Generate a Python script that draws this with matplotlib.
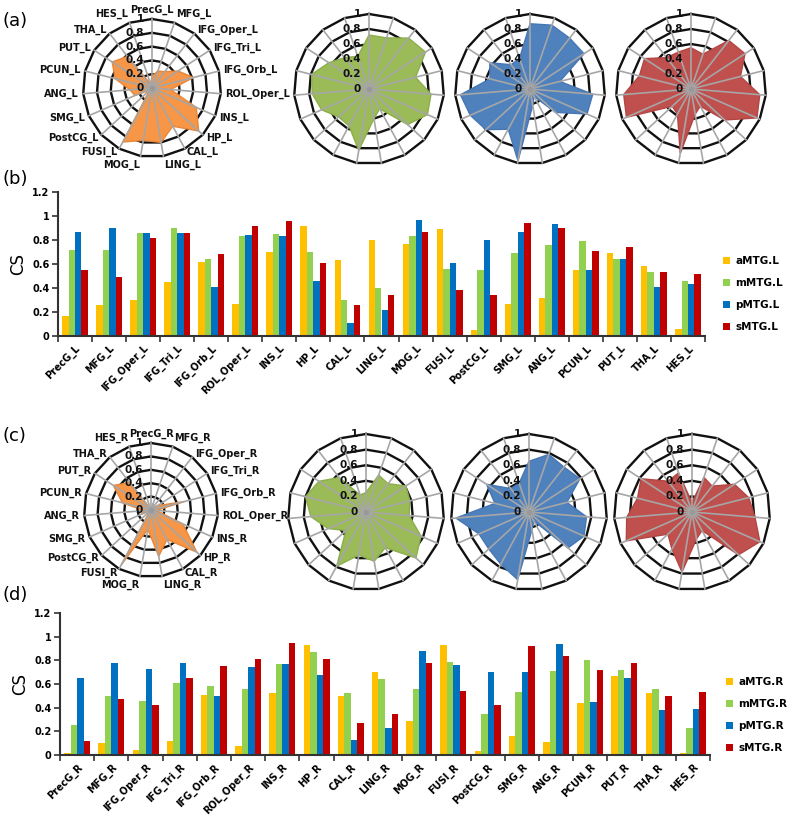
import numpy as np
import matplotlib.pyplot as plt

W, H = 787, 822

regions = ['PrecG', 'MFG', 'IFG_Oper', 'IFG_Tri', 'IFG_Orb', 'ROL_Oper', 'INS', 'HP', 'CAL', 'LING',
           'MOG', 'FUSI', 'PostCG', 'SMG', 'ANG', 'PCUN', 'PUT', 'THA', 'HES']
series = ['aMTG', 'mMTG', 'pMTG', 'sMTG']

# linke Hemisphaere
aMTG_L = [0.17, 0.26, 0.30, 0.45, 0.62, 0.27, 0.70, 0.92, 0.63, 0.80, 0.77, 0.89, 0.05, 0.27, 0.32, 0.55, 0.69, 0.58, 0.06]
mMTG_L = [0.72, 0.72, 0.86, 0.90, 0.64, 0.83, 0.85, 0.70, 0.30, 0.40, 0.83, 0.56, 0.55, 0.69, 0.76, 0.79, 0.64, 0.53, 0.46]
pMTG_L = [0.87, 0.90, 0.86, 0.86, 0.41, 0.84, 0.83, 0.46, 0.11, 0.22, 0.97, 0.61, 0.80, 0.87, 0.93, 0.55, 0.64, 0.41, 0.43]
sMTG_L = [0.55, 0.49, 0.82, 0.86, 0.68, 0.92, 0.96, 0.61, 0.26, 0.34, 0.87, 0.38, 0.34, 0.94, 0.90, 0.71, 0.74, 0.53, 0.52]

# rechte Hemisphaere
aMTG_R = [0.02, 0.10, 0.04, 0.12, 0.51, 0.08, 0.52, 0.93, 0.50, 0.70, 0.29, 0.93, 0.03, 0.16, 0.11, 0.44, 0.67, 0.52, 0.02]
mMTG_R = [0.25, 0.50, 0.46, 0.61, 0.58, 0.555, 0.77, 0.87, 0.52, 0.64, 0.56, 0.79, 0.35, 0.53, 0.71, 0.80, 0.72, 0.56, 0.23]
pMTG_R = [0.65, 0.78, 0.73, 0.78, 0.50, 0.74, 0.77, 0.68, 0.13, 0.23, 0.88, 0.76, 0.70, 0.70, 0.94, 0.45, 0.65, 0.38, 0.39]
sMTG_R = [0.12, 0.47, 0.42, 0.65, 0.75, 0.81, 0.95, 0.81, 0.27, 0.35, 0.78, 0.54, 0.42, 0.92, 0.84, 0.72, 0.78, 0.50, 0.53]

bar_colors = ['#FFC000', '#92D050', '#0070C0', '#C00000']
radar_colors = ['#F79646', '#9BBB59', '#4F81BD', '#C0504D']
radar_edges = ['#E8873A', '#8DAE4C', '#4677B4', '#B24643']

plt.rcParams['font.family'] = 'DejaVu Sans'
fig = plt.figure(figsize=(W / 100, H / 100), dpi=100)


def rect_px(left, top, right, bottom):
    return [left / W, 1 - bottom / H, (right - left) / W, (bottom - top) / H]


def radar(cx, cy, R, values, color, edge, suffix=None):
    ax = fig.add_axes(rect_px(cx - R, cy - R, cx + R, cy + R), projection='polar')
    ax.set_theta_zero_location('N')
    ax.set_theta_direction(-1)
    ax.set_ylim(0, 1)
    ax.set_xticks([])
    ax.set_yticks([])
    ax.grid(False)
    ax.spines['polar'].set_visible(False)
    ax.patch.set_alpha(0)
    n = len(values)
    ang = np.linspace(0, 2 * np.pi, n, endpoint=False)
    ang_c = np.append(ang, ang[0])
    # Ringe unter der Flaeche, Speichen darueber (wie in Excel)
    for r in [0.2, 0.4, 0.6, 0.8, 1.0]:
        ax.plot(ang_c, [r] * (n + 1), color='#111111', lw=1.7, clip_on=False, zorder=1)
    vals = np.append(values, values[0])
    ax.fill(ang_c, vals, facecolor=color, edgecolor=edge, lw=1.0, alpha=1.0, zorder=3, clip_on=False)
    for a in ang:
        ax.plot([a, a], [0, 1], color='#A6A6A6', lw=1.2, clip_on=False, zorder=4)
    ax.plot([0], [0], 'o', color='#999999', ms=3, zorder=5)
    for r in [0, 0.2, 0.4, 0.6, 0.8, 1.0]:
        ax.annotate('{:g}'.format(r), (0, r), xytext=(-6, 0), textcoords='offset points',
                    ha='right', va='center', fontsize=7.5, fontweight='bold', color='#111111',
                    annotation_clip=False, zorder=6)
    if suffix:
        for a, name in zip(ang, regions):
            s, c = np.sin(a), np.cos(a)
            ha = 'left' if s > 0.05 else ('right' if s < -0.05 else 'center')
            va = 'bottom' if c > 0.9 else ('top' if c < -0.9 else 'center')
            ax.annotate(name + suffix, (a, 1.0), xytext=(3 * s, 3 * c), textcoords='offset points',
                        ha=ha, va=va, fontsize=7, fontweight='bold', color='#111111',
                        annotation_clip=False)
    return ax


def bars(rect, data, suffix, legend_xy):
    ax = fig.add_axes(rect)
    x = np.arange(len(regions))
    w = 0.19
    for k, (vals, col) in enumerate(zip(data, bar_colors)):
        ax.bar(x + (k - 1.5) * w, vals, width=w, color=col, label=series[k] + '.' + suffix)
    ax.set_xlim(-0.5, len(regions) - 0.5)
    ax.set_ylim(0, 1.2)
    ax.set_yticks(np.arange(0, 1.21, 0.2))
    ax.set_yticklabels(['{:g}'.format(round(v, 1)) for v in np.arange(0, 1.21, 0.2)],
                       fontsize=7, fontweight='bold')
    ax.set_xticks(x)
    ax.set_xticklabels([r + '_' + suffix for r in regions], rotation=45, ha='right',
                       rotation_mode='anchor', fontsize=7, fontweight='bold')
    ax.tick_params(axis='x', length=0, pad=5)
    ax.set_xticks(np.arange(-0.5, len(regions)), minor=True)
    ax.tick_params(axis='x', which='minor', length=4, width=1.2, color='#333333')
    ax.tick_params(axis='y', length=4, width=1.2, color='#333333', pad=2)
    for s in ['top', 'right']:
        ax.spines[s].set_visible(False)
    for s in ['left', 'bottom']:
        ax.spines[s].set_linewidth(1.5)
        ax.spines[s].set_color('#333333')
    ax.set_ylabel('CS', fontsize=12)
    ax.yaxis.set_label_coords(-0.047, 0.5)
    ax.legend(loc='upper left', bbox_to_anchor=legend_xy, bbox_transform=fig.transFigure,
              frameon=False, prop={'size': 7.5, 'weight': 'bold'}, handlelength=0.7,
              handleheight=0.7, handletextpad=0.5, labelspacing=1.15, borderpad=0, borderaxespad=0)
    return ax


# (a) Radar links
radar(152, 88, 69, aMTG_L, radar_colors[0], radar_edges[0], suffix='_L')
radar(369, 89, 75, mMTG_L, radar_colors[1], radar_edges[1])
radar(530, 89, 75, pMTG_L, radar_colors[2], radar_edges[2])
radar(691, 89, 75, sMTG_L, radar_colors[3], radar_edges[3])

# (b) Balken links
bars(rect_px(58, 192, 705, 336), [aMTG_L, mMTG_L, pMTG_L, sMTG_L], 'L', (723 / W, 1 - 256 / H))

# (c) Radar rechts
radar(151, 510, 67, aMTG_R, radar_colors[0], radar_edges[0], suffix='_R')
radar(366, 512, 78, mMTG_R, radar_colors[1], radar_edges[1])
radar(529, 512, 78, pMTG_R, radar_colors[2], radar_edges[2])
radar(692, 512, 78, sMTG_R, radar_colors[3], radar_edges[3])

# (d) Balken rechts
bars(rect_px(60, 613, 710, 755), [aMTG_R, mMTG_R, pMTG_R, sMTG_R], 'R', (726 / W, 1 - 677 / H))

for lab, y in [('(a)', 21), ('(b)', 179), ('(c)', 436), ('(d)', 595)]:
    fig.text(2 / W, 1 - y / H, lab, fontsize=13, va='center', ha='left')

plt.savefig('out.png', dpi=100)
